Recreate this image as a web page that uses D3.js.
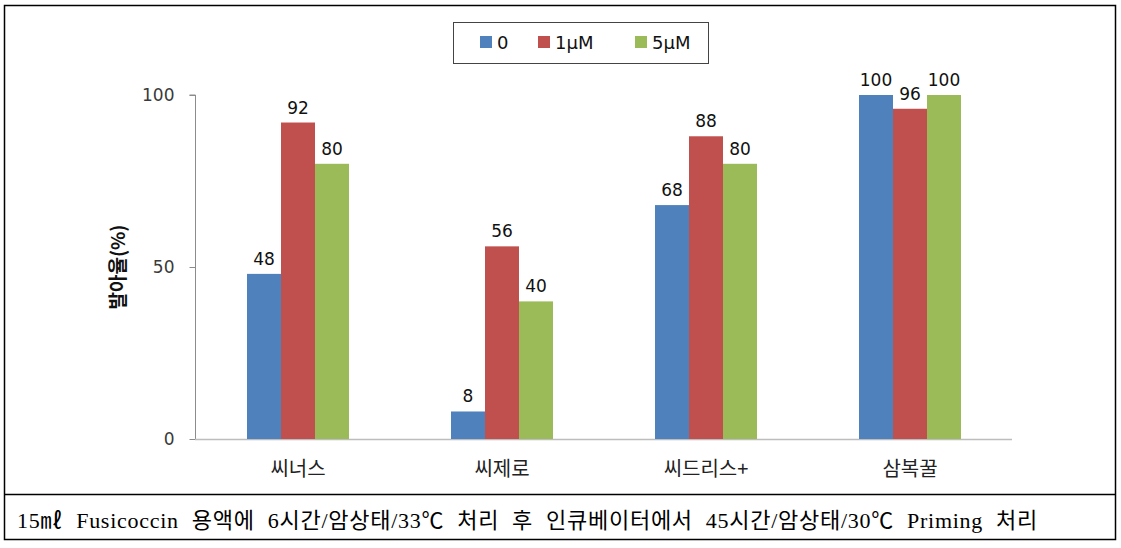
<!DOCTYPE html>
<html>
<head>
<meta charset="utf-8">
<script src="https://cdn.jsdelivr.net/npm/d3@7"></script>
<style>
  body { margin: 0; background: #fff; }
  text { font-family: "Noto Sans CJK KR", "DejaVu Sans", sans-serif; }
</style>
</head>
<body>
<div id="chart"></div>
<script>
// Data
var categories = ["씨너스", "씨제로", "씨드리스+", "삼복꿀"];
var seriesNames = ["0", "1μM", "5μM"];
var values0 = [48, 8, 68, 100];
var values1 = [92, 56, 88, 96];
var values5 = [80, 40, 80, 100];
var yTicks = [0, 50, 100];
var colors = ["#4F81BD", "#C0504D", "#9BBB59"];
var caption = "15㎖ Fusicoccin 용액에 6시간/암상태/33℃ 처리 후 인큐베이터에서 45시간/암상태/30℃ Priming 처리";

var series = [values0, values1, values5];

var W = 1121, H = 548;
var svg = d3.select("#chart").append("svg")
    .attr("width", W)
    .attr("height", H);

// Outer frame and caption divider
svg.append("rect")
    .attr("x", 4.5).attr("y", 5.5)
    .attr("width", 1111).attr("height", 534)
    .attr("fill", "none")
    .attr("stroke", "#000")
    .attr("stroke-width", 1.5);
svg.append("line")
    .attr("x1", 4.5).attr("x2", 1115.5)
    .attr("y1", 494.5).attr("y2", 494.5)
    .attr("stroke", "#000")
    .attr("stroke-width", 1.5);

// Scales
var x0 = d3.scaleBand().domain(categories).range([196, 1012]);
var x1 = d3.scaleBand().domain(seriesNames).range([0, x0.bandwidth() / 2]);
var y = d3.scaleLinear().domain([0, 100]).range([439, 95]);

// Y axis
var yAxis = svg.append("g")
    .attr("transform", "translate(195.5,0)")
    .call(d3.axisLeft(y).tickValues(yTicks).tickSize(6).tickPadding(15));
yAxis.select(".domain").attr("stroke", "#8c8c8c").attr("d", "M-6," + y(100) + "H0V" + y(0));
yAxis.selectAll(".tick line").attr("stroke", "#8c8c8c");
yAxis.selectAll(".tick text")
    .style("font-family", "'DejaVu Sans', sans-serif")
    .style("font-size", "17px")
    .attr("fill", "#3a3a3a");

// Baseline
svg.append("line")
    .attr("x1", 195).attr("x2", x0.range()[1])
    .attr("y1", y(0) + 0.5).attr("y2", y(0) + 0.5)
    .attr("stroke", "#bdbdbd")
    .attr("stroke-width", 1.5);

// Bars
var groups = svg.selectAll(".grp")
    .data(categories)
    .enter().append("g")
    .attr("class", "grp")
    .attr("transform", function(d) { return "translate(" + (x0(d) + x0.bandwidth() / 4) + ",0)"; });

groups.selectAll("rect")
    .data(function(d, i) { return seriesNames.map(function(s, j) { return {s: s, v: series[j][i], j: j}; }); })
    .enter().append("rect")
    .attr("x", function(d) { return x1(d.s); })
    .attr("width", x1.bandwidth())
    .attr("y", function(d) { return y(d.v); })
    .attr("height", function(d) { return y(0) - y(d.v); })
    .attr("fill", function(d) { return colors[d.j]; });

groups.selectAll(".val")
    .data(function(d, i) { return seriesNames.map(function(s, j) { return {s: s, v: series[j][i]}; }); })
    .enter().append("text")
    .attr("class", "val")
    .attr("x", function(d) { return x1(d.s) + x1.bandwidth() / 2; })
    .attr("y", function(d) { return y(d.v) - 9; })
    .attr("text-anchor", "middle")
    .style("font-family", "'DejaVu Sans', sans-serif")
    .style("font-size", "17px")
    .attr("fill", "#111")
    .text(function(d) { return d.v; });

// Category labels
svg.selectAll(".cat")
    .data(categories)
    .enter().append("text")
    .attr("class", "cat")
    .attr("x", function(d) { return x0(d) + x0.bandwidth() / 2; })
    .attr("y", 476)
    .attr("text-anchor", "middle")
    .style("font-size", "20px")
    .attr("fill", "#222")
    .text(function(d) { return d; });

// Y axis title
svg.append("text")
    .attr("transform", "translate(125," + y(50) + ") rotate(-90)")
    .attr("text-anchor", "middle")
    .style("font-size", "19px")
    .style("font-weight", "bold")
    .attr("fill", "#111")
    .text("발아율(%)");

// Legend
var legend = svg.append("g");
legend.append("rect")
    .attr("x", 453.5).attr("y", 22.5)
    .attr("width", 255).attr("height", 41)
    .attr("fill", "#fff")
    .attr("stroke", "#444")
    .attr("stroke-width", 1);
var legendX = [480, 538, 635];
seriesNames.forEach(function(s, i) {
    legend.append("rect")
        .attr("x", legendX[i]).attr("y", 36)
        .attr("width", 12).attr("height", 12)
        .attr("fill", colors[i]);
    legend.append("text")
        .attr("x", legendX[i] + 17).attr("y", 49)
        .style("font-family", "'DejaVu Sans', sans-serif")
        .style("font-size", "18px")
        .attr("fill", "#111")
        .text(s);
});

// Caption - spread so the line ends near x=1038 like the original
var cap = svg.append("text")
    .attr("x", 17).attr("y", 528)
    .style("font-family", "'Liberation Serif', 'Noto Sans CJK KR', serif")
    .style("font-size", "22px")
    .attr("fill", "#000")
    .text(caption);
var natural = cap.node().getComputedTextLength();
var gaps = caption.split(" ").length - 1;
var extra = Math.max(0, 1021 - natural);
cap.style("letter-spacing", (extra * 0.45 / caption.length) + "px")
   .style("word-spacing", (extra * 0.55 / gaps) + "px");
</script>
</body>
</html>
